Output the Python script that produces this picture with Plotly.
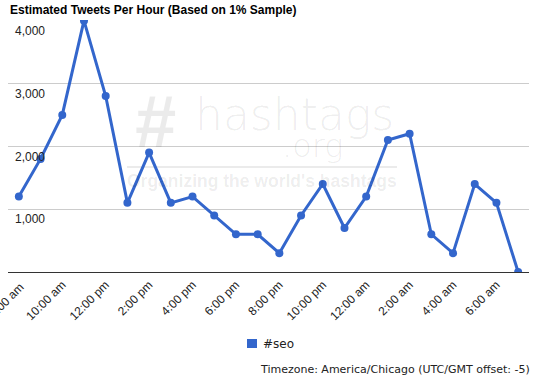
import plotly.graph_objects as go

# ---- data ----
hours = ["8:00 am", "9:00 am", "10:00 am", "11:00 am", "12:00 pm", "1:00 pm",
         "2:00 pm", "3:00 pm", "4:00 pm", "5:00 pm", "6:00 pm", "7:00 pm",
         "8:00 pm", "9:00 pm", "10:00 pm", "11:00 pm", "12:00 am", "1:00 am",
         "2:00 am", "3:00 am", "4:00 am", "5:00 am", "6:00 am", "7:00 am"]
seo = [1200, 1800, 2500, 4000, 2800, 1100, 1900, 1100, 1200, 900, 600, 600,
       300, 900, 1400, 700, 1200, 2100, 2200, 600, 300, 1400, 1100, 0]
y_ticks = [1000, 2000, 3000, 4000]
y_tick_text = ["1,000", "2,000", "3,000", "4,000"]

W, H = 556, 385
L, R, T, B = 8, 27, 20, 113
PW = W - L - R
PH = H - T - B


def px_x(p):
    return (p - L) / PW


def px_y(p):
    return (H - B - p) / PH


idx = list(range(len(hours)))
fig = go.Figure()
fig.add_trace(go.Scatter(
    x=idx, y=seo, mode="lines+markers", name="#seo",
    line=dict(color="#3366cc", width=3),
    marker=dict(color="#3366cc", size=8),
    showlegend=False, hoverinfo="skip"))

tv = idx[2::2]
tt = hours[2::2]

fig.update_layout(
    width=W, height=H, autosize=False,
    margin=dict(l=L, r=R, t=T, b=B, pad=0),
    paper_bgcolor="white", plot_bgcolor="white",
    font=dict(family="Arial, Liberation Sans, sans-serif", size=12, color="#222"),
    xaxis=dict(range=[-0.5, len(hours) - 0.5], tickvals=tv, ticktext=tt,
               tickangle=-45, showgrid=False, zeroline=False, showline=True,
               linecolor="#333", linewidth=1, ticks="", automargin=False,
               fixedrange=True, tickfont=dict(size=12, color="#222")),
    yaxis=dict(range=[0, 4010], tickvals=y_ticks, ticktext=y_tick_text,
               ticklabelposition="inside", ticklabelshift=10,
               ticklabelstandoff=4, gridcolor="#cccccc", gridwidth=1,
               zeroline=False, showline=False, ticks="", automargin=False,
               fixedrange=True, tickfont=dict(size=12, color="#222")),
    showlegend=False,
)

wm = "rgba(0,0,0,0.08)"
anns = [
    dict(text="Estimated Tweets Per Hour (Based on 1% Sample)", xref="paper", yref="paper",
         x=px_x(8), y=px_y(10), xanchor="left", yanchor="middle", showarrow=False,
         font=dict(family="Arial, Liberation Sans, sans-serif", size=12, color="#000", weight="bold")),
    # first x tick label (partly cut off at the left edge)
    dict(text=hours[0], xref="paper", yref="paper", x=px_x(6), y=px_y(301),
         xanchor="center", yanchor="middle", showarrow=False, textangle=-45,
         font=dict(family="Arial, Liberation Sans, sans-serif", size=12, color="#222")),
    dict(text="#seo", xref="paper", yref="paper", x=px_x(261), y=px_y(344),
         xanchor="left", yanchor="middle", showarrow=False,
         font=dict(family="DejaVu Sans, Verdana, sans-serif", size=12, color="#222")),
    dict(text="Timezone: America/Chicago (UTC/GMT offset: -5)", xref="paper", yref="paper",
         x=px_x(258), y=px_y(369), xanchor="left", yanchor="middle", showarrow=False,
         font=dict(family="DejaVu Sans, Verdana, sans-serif", size=11, color="#222")),
    # watermark
    dict(text="#", xref="paper", yref="paper", x=px_x(155), y=px_y(121),
         xanchor="center", yanchor="middle", showarrow=False,
         font=dict(family="Liberation Sans, Arial, sans-serif", size=74, color=wm,
                   weight="bold", style="italic")),
    dict(text="hashtags", xref="paper", yref="paper", x=px_x(294), y=px_y(114),
         xanchor="center", yanchor="middle", showarrow=False,
         font=dict(family="DejaVu Sans, sans-serif", size=44, color=wm, weight=200)),
    dict(text=".org", xref="paper", yref="paper", x=px_x(313), y=px_y(146),
         xanchor="center", yanchor="middle", showarrow=False,
         font=dict(family="DejaVu Sans, sans-serif", size=32, color=wm, weight=200)),
    dict(text="Organizing the world's hashtags", xref="paper", yref="paper",
         x=px_x(262), y=px_y(181), xanchor="center", yanchor="middle", showarrow=False,
         font=dict(family="Arial, Liberation Sans, sans-serif", size=17.5, color=wm, weight="bold")),
]
fig.update_layout(annotations=anns)

fig.add_shape(type="rect", xref="paper", yref="paper",
              x0=px_x(247), x1=px_x(257), y0=px_y(348), y1=px_y(339),
              fillcolor="#3366cc", line=dict(width=0))
fig.add_shape(type="line", xref="paper", yref="paper", layer="below",
              x0=px_x(127), x1=px_x(397), y0=px_y(167), y1=px_y(167),
              line=dict(color="#ebebeb", width=2))

fig.write_html("out.html", config={"displayModeBar": False})
